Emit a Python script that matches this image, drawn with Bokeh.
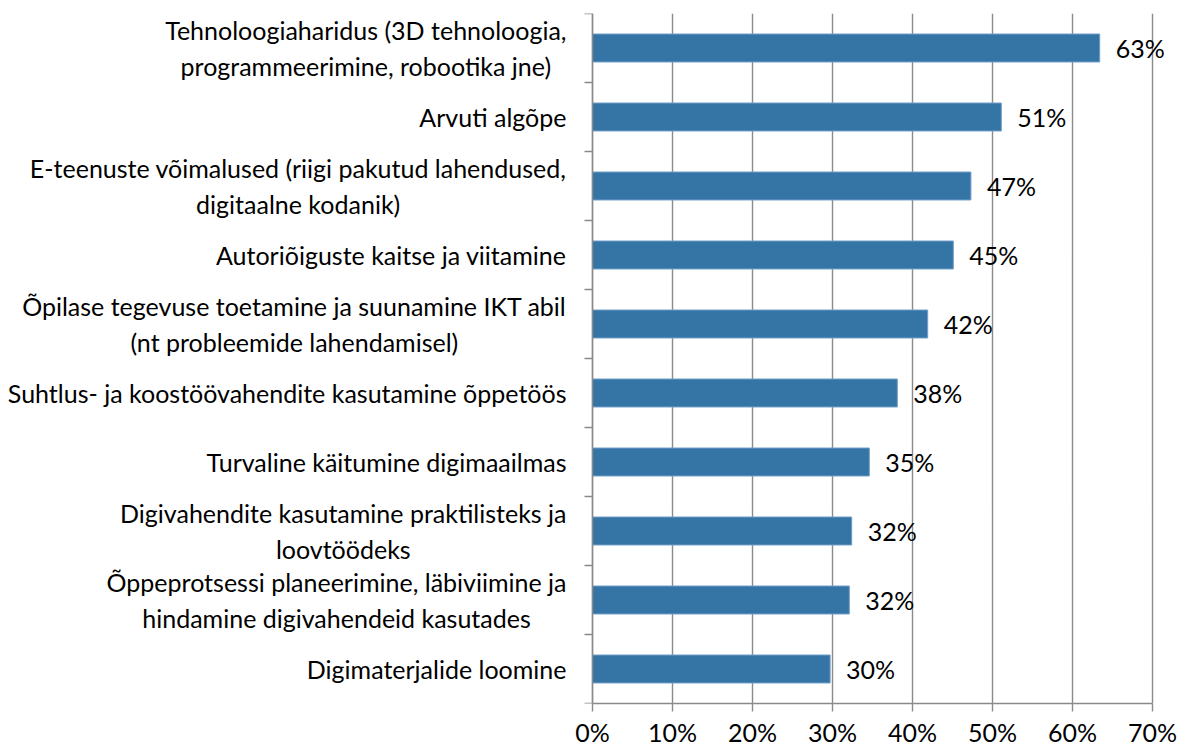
from bokeh.plotting import figure
from bokeh.models import (ColumnDataSource, LinearAxis, FixedTicker, Range1d,
                          LabelSet, Label, PrintfTickFormatter)
from bokeh.core.properties import value
from bokeh.embed import file_html
from bokeh.resources import INLINE

categories = [
    "Tehnoloogiaharidus (3D tehnoloogia,\nprogrammeerimine, robootika jne)",
    "Arvuti algõpe",
    "E-teenuste võimalused (riigi pakutud lahendused,\ndigitaalne kodanik)",
    "Autoriõiguste kaitse ja viitamine",
    "Õpilase tegevuse toetamine ja suunamine IKT abil\n(nt probleemide lahendamisel)",
    "Suhtlus- ja koostöövahendite kasutamine õppetöös",
    "Turvaline käitumine digimaailmas",
    "Digivahendite kasutamine praktilisteks ja\nloovtöödeks",
    "Õppeprotsessi planeerimine, läbiviimine ja\nhindamine digivahendeid kasutades",
    "Digimaterjalide loomine",
]
values = [63.4, 51.1, 47.3, 45.1, 41.9, 38.1, 34.6, 32.4, 32.1, 29.7]
value_labels = ["63%", "51%", "47%", "45%", "42%", "38%", "35%", "32%", "32%", "30%"]
x_ticks = [0, 10, 20, 30, 40, 50, 60, 70]

FONT = "Lato"
FSIZE = "25px"
GRAY = "#8a8a8a"

n = len(categories)
pos = list(range(n - 1, -1, -1))          # first category on top
bounds = [i - 0.5 for i in range(n + 1)]

src = ColumnDataSource(dict(pos=pos, value=values, label=value_labels))

# frame spans the whole width; the category-label area lies at negative x
p = figure(width=1184, height=749, x_range=Range1d(-74, 74), y_range=Range1d(-0.5, n - 0.5),
           output_backend="svg", toolbar_location=None, y_axis_location=None,
           min_border_left=0, min_border_right=0, min_border_top=13, min_border_bottom=45)
p.outline_line_color = None
p.background_fill_color = "white"

p.hbar(y="pos", left=0, right="value", height=0.405, source=src,
       fill_color="#3575a6", line_color="#6f9dc7", line_width=1)

p.add_layout(LabelSet(x="value", y="pos", text="label", source=src, x_offset=16,
                      text_baseline="middle", text_align="left",
                      text_font=value(FONT), text_font_size=value(FSIZE), text_color="black"))

# category labels: block right-aligned next to the axis, lines centred
for yk, cat in zip(pos, categories):
    p.add_layout(Label(x=0, y=yk, x_offset=-26, text=cat, anchor="center_right",
                       text_align="center", text_baseline="middle",
                       text_font=FONT, text_font_size=FSIZE, text_color="black",
                       text_line_height=1.2))

# x axis / grid
p.xgrid.ticker = FixedTicker(ticks=x_ticks)
p.xgrid.grid_line_color = GRAY
p.xgrid.grid_line_width = 1.4
p.ygrid.visible = False
xa = p.xaxis[0]
xa.ticker = FixedTicker(ticks=x_ticks)
xa.bounds = (0, 70)
xa.formatter = PrintfTickFormatter(format="%d%%")
xa.axis_line_color = GRAY
xa.axis_line_width = 1.4
xa.major_tick_line_color = GRAY
xa.major_tick_line_width = 1.4
xa.major_tick_in = 0
xa.major_tick_out = 8
xa.minor_tick_line_color = None
xa.major_label_standoff = 5
xa.major_label_text_font = FONT
xa.major_label_text_font_size = FSIZE
xa.major_label_text_color = "black"

# y axis line at x=0 with ticks at category boundaries
ya = LinearAxis(ticker=FixedTicker(ticks=[], minor_ticks=bounds), fixed_location=0)
ya.axis_line_color = GRAY
ya.axis_line_width = 1.4
ya.major_tick_line_color = None
ya.minor_tick_line_color = GRAY
ya.minor_tick_line_width = 1.4
ya.minor_tick_out = 8
ya.minor_tick_in = 0
p.add_layout(ya, "left")

open("out.html", "w").write(file_html(p, INLINE))
